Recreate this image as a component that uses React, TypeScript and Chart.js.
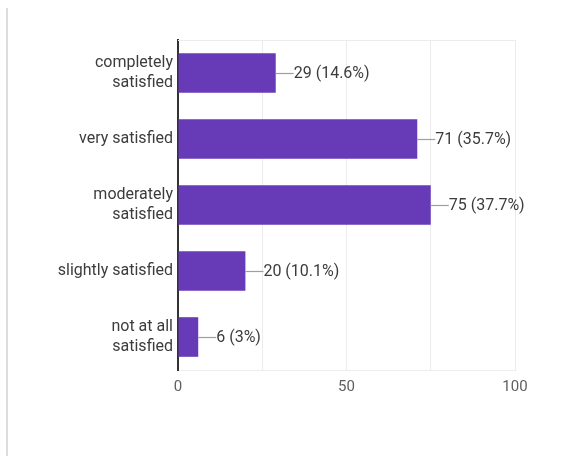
import React, { useEffect, useRef } from "react";
import { Chart, registerables } from "chart.js";

Chart.register(...registerables);

const categories: string[][] = [
  ["completely", "satisfied"],
  ["very satisfied"],
  ["moderately", "satisfied"],
  ["slightly satisfied"],
  ["not at all", "satisfied"],
];
const counts: number[] = [29, 71, 75, 20, 6];
const percents: string[] = ["14.6%", "35.7%", "37.7%", "10.1%", "3%"];
const xTicks: number[] = [0, 50, 100];

const FONT = "Roboto, 'Noto Sans', sans-serif";

const framePlugin = {
  id: "frame",
  beforeDatasetsDraw(chart: any) {
    const { ctx, chartArea } = chart;
    ctx.save();
    ctx.strokeStyle = "#ececec";
    ctx.lineWidth = 1;
    ctx.beginPath();
    ctx.moveTo(chartArea.left, chartArea.top + 0.5);
    ctx.lineTo(chartArea.right, chartArea.top + 0.5);
    ctx.stroke();
    ctx.restore();
  },
  beforeDraw(chart: any) {
    const { ctx } = chart;
    ctx.save();
    ctx.fillStyle = "#ffffff";
    ctx.fillRect(0, 0, chart.width, chart.height);
    ctx.strokeStyle = "#dcdcdc";
    ctx.lineWidth = 2;
    ctx.beginPath();
    ctx.moveTo(7, 8);
    ctx.lineTo(7, chart.height);
    ctx.stroke();
    ctx.restore();
  },
};

const labelPlugin = {
  id: "valueLabels",
  afterDatasetsDraw(chart: any) {
    const { ctx } = chart;
    const meta = chart.getDatasetMeta(0);
    ctx.save();
    ctx.font = `16px ${FONT}`;
    ctx.textBaseline = "middle";
    ctx.textAlign = "left";
    meta.data.forEach((bar: any, i: number) => {
      const x = bar.x;
      const y = bar.y;
      ctx.strokeStyle = "#9e9e9e";
      ctx.lineWidth = 1.2;
      ctx.beginPath();
      ctx.moveTo(x, Math.round(y) + 0.5);
      ctx.lineTo(x + 18, Math.round(y) + 0.5);
      ctx.stroke();
      ctx.fillStyle = "#3c3c3c";
      ctx.fillText(`${counts[i]} (${percents[i]})`, x + 18, y + 1);
    });
    ctx.restore();
  },
};

export default function App() {
  const ref = useRef<HTMLCanvasElement | null>(null);
  useEffect(() => {
    document.body.style.margin = "0";
    const chart = new Chart(ref.current!, {
      type: "bar",
      data: {
        labels: categories,
        datasets: [
          {
            data: counts,
            backgroundColor: "#673ab7",
            borderWidth: 0,
            barPercentage: 0.6,
            categoryPercentage: 1,
          },
        ],
      },
      options: {
        indexAxis: "y",
        animation: false,
        responsive: false,
        layout: { padding: { left: 0, top: 40, right: 64, bottom: 0 } },
        plugins: { legend: { display: false }, tooltip: { enabled: false } },
        scales: {
          x: {
            min: 0,
            max: 100,
            afterFit(scale: any) {
              scale.height = 86;
            },
            afterBuildTicks(scale: any) {
              scale.ticks = [0, 25, 50, 75, 100].map((v) => ({ value: v }));
            },
            grid: { color: "#ececec", lineWidth: 1, drawTicks: false },
            border: { display: true, color: "#ececec", width: 1 },
            ticks: {
              padding: 8,
              color: "#5f5f5f",
              font: { family: FONT, size: 15 },
              callback: (v: any) => (xTicks.includes(Number(v)) ? String(v) : ""),
            },
          },
          y: {
            afterFit(scale: any) {
              scale.width = 178;
            },
            grid: { display: false, drawTicks: false },
            border: { display: true, color: "#333333", width: 2 },
            ticks: {
              padding: 5,
              color: "#3c3c3c",
              font: { family: FONT, size: 16, lineHeight: 1.3 },
            },
          },
        },
      },
      plugins: [framePlugin, labelPlugin],
    });
    return () => chart.destroy();
  }, []);
  return (
    <div style={{ width: 579, height: 456 }}>
      <canvas ref={ref} width={579} height={456} style={{ display: "block" }} />
    </div>
  );
}
